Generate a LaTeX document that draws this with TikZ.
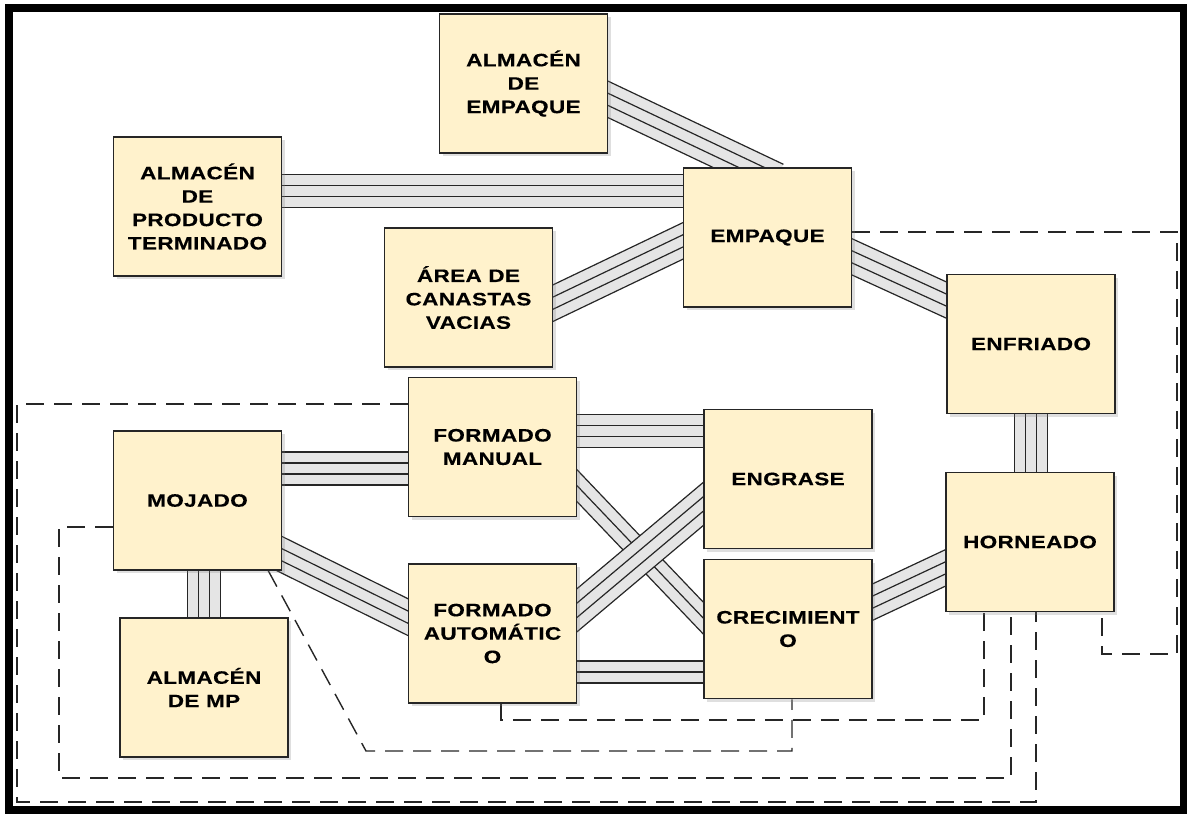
\documentclass[tikz,border=0pt]{standalone}
\usepackage{fontspec}
\setmainfont{Liberation Sans}
\newfontfamily\boxfont{Liberation Sans}[FakeStretch=1.25, LetterSpace=2, BoldFeatures={FakeBold=0.4}]
\usetikzlibrary{calc,shadows,backgrounds}

\definecolor{boxyellow}{HTML}{FFF2CC}
\definecolor{inkgray}{HTML}{262626}

% bundle of parallel lines: #1 lines, from #2 to #3
\newcommand{\conduit}[3]{%
  \path #2 coordinate (cA) #3 coordinate (cB);
  \coordinate (cAx) at ($(cA)!-14pt!(cB)$);
  \coordinate (cBx) at ($(cB)!-14pt!(cA)$);
  \pgfmathsetmacro{\bandw}{(#1-1)*5.5}
  \draw[line width=\bandw pt, black!10] (cAx) -- (cBx);
  \foreach \k in {1,...,#1}{
    \pgfmathsetmacro{\o}{(\k-(#1+1)/2)*5.5}
    \draw[line width=0.6pt, inkgray] ($(cAx)!\o pt!90:(cBx)$) -- ($(cBx)!\o pt!-90:(cAx)$);
  }%
}

\begin{document}
\begin{tikzpicture}[
x=0.5pt, y=-0.5pt,
area/.style={draw=inkgray, line width=0.8pt, fill=boxyellow,
  minimum width=84pt, minimum height=69.5pt, inner sep=1pt, align=center,
  font=\fontsize{9}{11.7}\boxfont\bfseries,
  drop shadow={shadow xshift=1.5pt, shadow yshift=-1.5pt, opacity=0.25}},
flow/.style={draw=inkgray, line width=0.7pt, dash pattern=on 9pt off 5pt}
]
\useasboundingbox (0,0) rectangle (1187,813);

% ---------- outer frame ----------
\draw[line width=4pt] (9,8) rectangle (1184,810);

% ---------- areas ----------
\node[area] (almemp) at (523.5,83.5) {ALMACÉN\\DE\\EMPAQUE};
\node[area] (almprod) at (197.5,206.5) {ALMACÉN\\DE\\PRODUCTO\\TERMINADO};
\node[area] (empaque) at (767.5,237.5) {EMPAQUE};
\node[area] (canastas) at (468.5,297.5) {ÁREA DE\\CANASTAS\\VACIAS};
\node[area] (enfriado) at (1031,344) {ENFRIADO};
\node[area] (fmanual) at (492.5,447) {FORMADO\\MANUAL};
\node[area] (engrase) at (788,479) {ENGRASE};
\node[area] (mojado) at (197.5,500.5) {MOJADO};
\node[area] (horno) at (1030,542) {HORNEADO};
\node[area] (crec) at (788,629) {CRECIMIENT\\O};
\node[area] (fauto) at (492.5,633.5) {FORMADO\\AUTOMÁTIC\\O};
\node[area] (almmp) at (204,687.5) {ALMACÉN\\DE MP};

\begin{pgfonlayer}{background}
% ---------- material flow ----------
\conduit{4}{($(almprod.east)+(0,-15.5)$)}{($(empaque.west)+(0,-46.5)$)}
\conduit{4}{($(almemp.east)+(0,16)$)}{($(empaque.north)+(-16.5,0)$)}
\conduit{4}{($(canastas.east)+(0,5.5)$)}{($(empaque.west)+(0,3.5)$)}
\conduit{4}{($(empaque.east)+(0,19.5)$)}{($(enfriado.west)+(0,-44)$)}
\conduit{4}{(enfriado.south)}{(enfriado.south |- horno.north)}
\conduit{4}{(almmp.north |- mojado.south)}{(almmp.north)}
\conduit{4}{($(mojado.east)+(0,-32)$)}{($(fmanual.west)+(0,21.5)$)}
\conduit{4}{($(mojado.east)+(0,54.5)$)}{($(fauto.west)+(0,-16.5)$)}
\conduit{4}{($(fmanual.east)+(0,-16)$)}{($(engrase.west)+(0,-48)$)}
\conduit{3}{($(fmanual.east)+(0,39)$)}{($(crec.west)+(0,-11)$)}
\conduit{4}{($(fauto.east)+(0,-23.5)$)}{($(engrase.west)+(0,25)$)}
\conduit{3}{($(fauto.east)+(0,38.5)$)}{($(crec.west)+(0,43)$)}
\conduit{4}{($(crec.east)+(0,-27)$)}{($(horno.west)+(0,26)$)}

% ---------- dashed routes ----------
\draw[flow] ($(empaque.east)+(0,-5.5)$) -| (1177,654) -| ($(horno.south)+(72,0)$);
\draw[flow] ($(fmanual.west)+(0,-43)$) -| (17,802) -| ($(horno.south)+(6,0)$);
\draw[flow] ($(mojado.west)+(0,26.5)$) -| (59,778) -| ($(horno.south)+(-19,0)$);
\draw[flow] ($(mojado.south east)+(-14,0)$) -- (366,751) -| ($(crec.south)+(4,0)$);
\draw[flow] ($(fauto.south)+(8.5,0)$) |- (984,720) -- ($(horno.south)+(-46,0)$);
\end{pgfonlayer}

\end{tikzpicture}
\end{document}
